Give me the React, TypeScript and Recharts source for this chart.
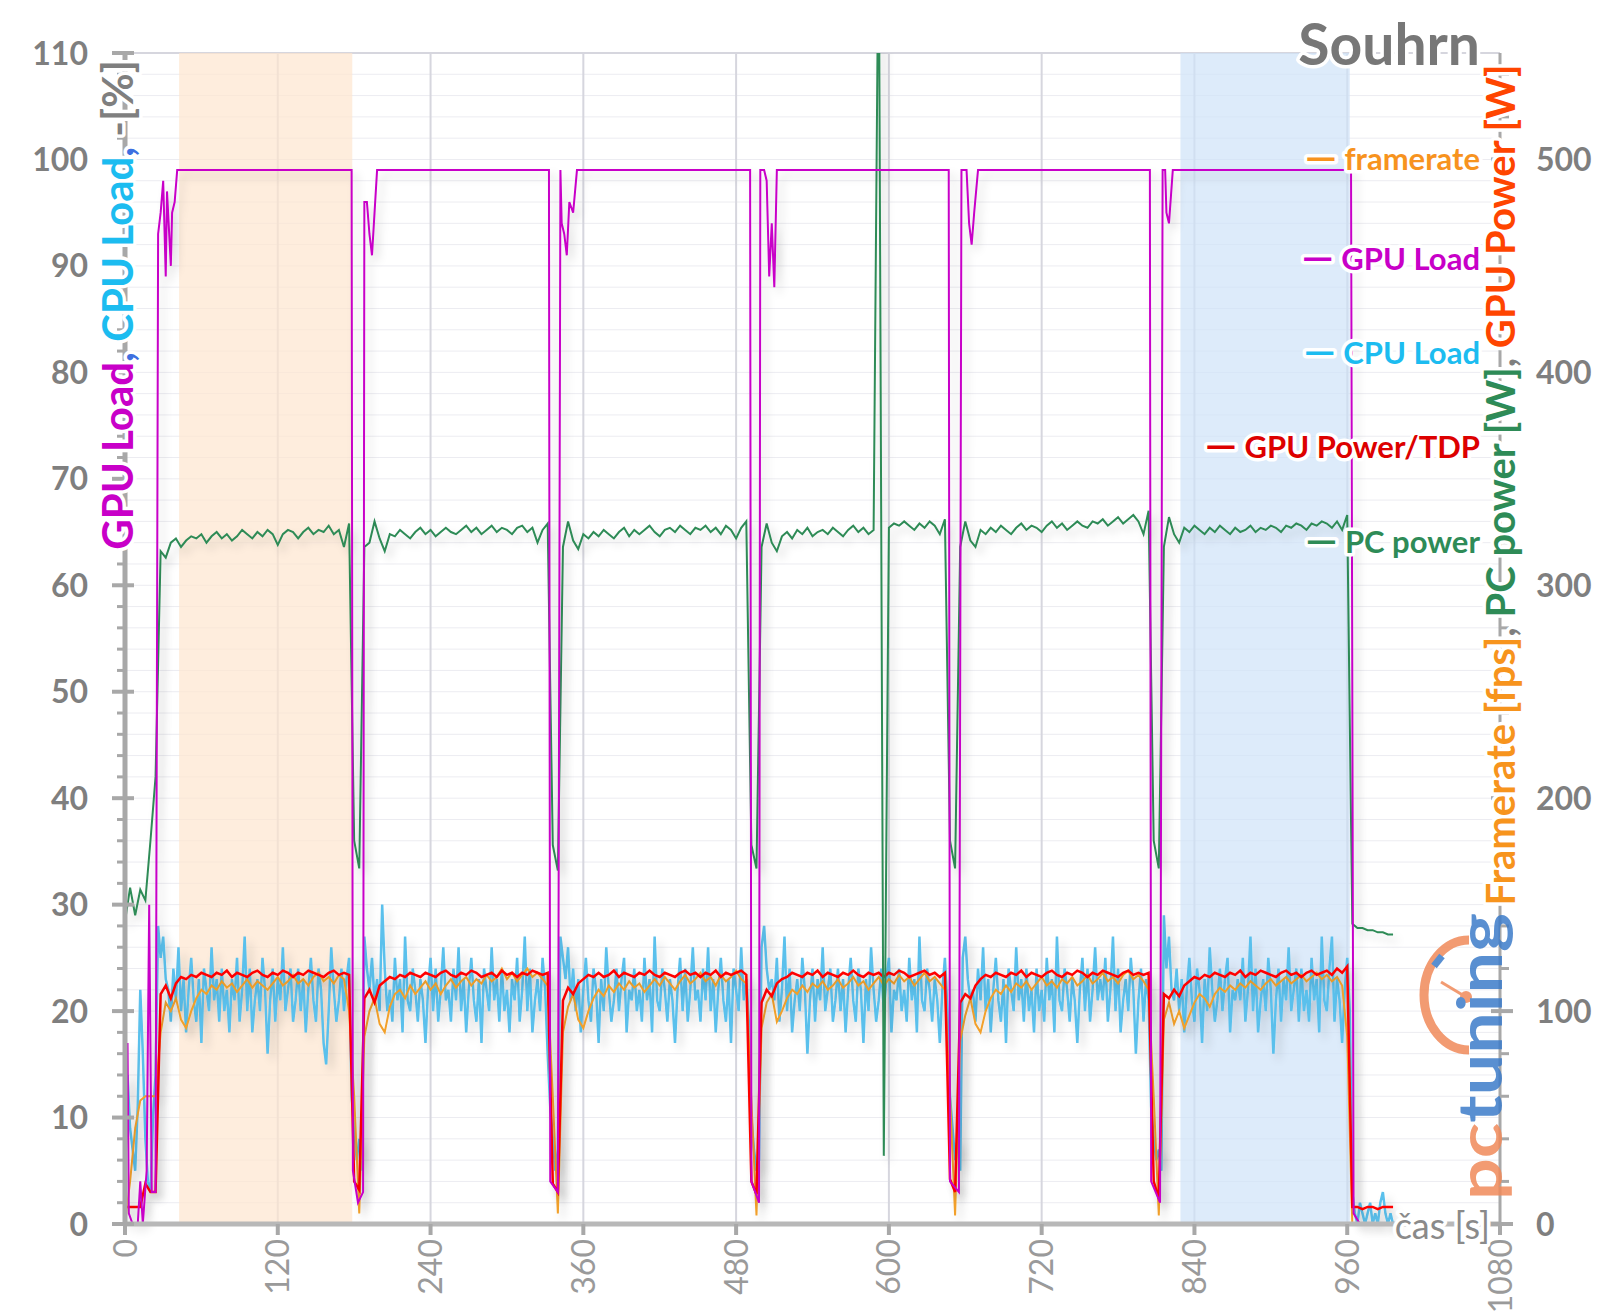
import { LineChart, Line, XAxis, YAxis, CartesianGrid, ReferenceArea } from "recharts"

// power / framerate sampled every 4 s, CPU load every 2 s
const STEP_S = 4
const CPU_STEP_S = 2

// PC power [W]
const pcPower = [
  142, 158, 145, 157, 152, 180, 210,
  316, 313, 320, 322, 318, 321, 323, 322, 324, 320, 323, 325, 322, 324, 321, 323, 326, 324, 322, 325, 323, 326, 324, 319, 324, 326, 325, 322, 325, 327, 324, 326, 325, 328, 324, 326, 318, 329,
  180, 167,
  318, 320, 330, 322, 316, 324, 323, 326, 324, 322, 325, 327, 324, 326, 323, 325, 327, 325, 324, 326, 328, 325, 327, 324, 326, 328, 325, 327, 326, 324, 327, 328, 325, 327, 320, 326, 329,
  178, 166,
  318, 330, 321, 317, 324, 322, 325, 323, 326, 324, 322, 325, 327, 323, 326, 324, 326, 328, 325, 323, 326, 327, 325, 328, 326, 324, 327, 326, 328, 325, 327, 324, 328, 326, 322, 327, 330,
  178, 167,
  318, 329, 320, 316, 323, 325, 322, 326, 324, 327, 323, 325, 326, 324, 327, 325, 323, 326, 328, 325, 327, 324, 326, 620, 32, 327, 329, 328, 330, 328, 326, 329, 327, 330, 328, 324, 331,
  180, 167,
  318, 330, 321, 318, 326, 324, 327, 325, 328, 326, 324, 327, 329, 326, 328, 327, 325, 328, 330, 327, 329, 326, 328, 330, 328, 327, 330, 329, 331, 328, 330, 332, 329, 331, 333, 330, 324, 335,
  180, 167,
  318, 332, 324, 320, 327, 325, 328, 326, 324, 327, 325, 328, 326, 324, 327, 325, 326, 328, 325, 327, 326, 328, 327, 325, 328, 327, 329, 328, 326, 329, 328, 330, 329, 327, 330, 326, 333,
  141, 139, 139, 138, 138, 137, 137, 136, 136,
]

// GPU power [W]
const gpuPower = [
  8, 8, 8, 8, 19, 15, 15,
  108, 112, 106, 113, 116, 115, 117, 116, 118, 117, 116, 118, 117, 119, 116, 118, 117, 116, 118, 119, 117, 116, 118, 117, 119, 118, 116, 118, 117, 119, 118, 117, 116, 118, 119, 117, 118, 117,
  20, 16,
  106, 110, 104, 112, 114, 116, 115, 117, 116, 118, 117, 116, 118, 117, 116, 118, 119, 117, 116, 118, 117, 119, 118, 116, 117, 118, 116, 119, 117, 118, 116, 118, 117, 119, 118, 117, 118,
  19, 15,
  105, 111, 108, 113, 115, 117, 116, 118, 116, 117, 119, 116, 118, 117, 116, 118, 117, 119, 117, 116, 118, 117, 116, 118, 119, 117, 118, 116, 118, 117, 119, 116, 118, 117, 118, 119, 117,
  20, 14,
  104, 110, 107, 113, 115, 116, 118, 117, 116, 118, 117, 119, 116, 118, 117, 116, 118, 117, 119, 117, 116, 118, 117, 118, 116, 118, 117, 119, 118, 116, 117, 118, 119, 117, 118, 116, 118,
  21, 15,
  104, 108, 106, 112, 115, 117, 116, 118, 117, 116, 118, 117, 119, 116, 118, 117, 116, 118, 119, 117, 116, 118, 117, 119, 118, 116, 118, 117, 119, 118, 117, 116, 118, 119, 117, 118, 117, 118,
  20, 12,
  108, 106, 110, 107, 112, 114, 116, 115, 117, 116, 118, 117, 116, 118, 117, 119, 116, 118, 117, 119, 118, 117, 116, 118, 119, 117, 118, 116, 118, 119, 117, 118, 119, 117, 120, 118, 121,
  8, 8, 7, 8, 8, 7, 8, 8, 8,
]

// framerate [fps]
const framerate = [
  0, 20, 45, 58, 60, 60, 60,
  90, 104, 100, 106, 96, 92, 100, 106, 110, 108, 112, 110, 114, 111, 113, 109, 112, 115, 111, 114, 112, 110, 113, 116, 112, 114, 117, 113, 115, 112, 116, 118, 114, 116, 113, 117, 115, 100,
  60, 5,
  88, 100, 106, 94, 90, 102, 108, 110, 106, 112, 108, 111, 114, 110, 113, 108, 112, 115, 111, 114, 116, 112, 115, 113, 117, 114, 116, 120, 115, 118, 114, 117, 120, 116, 118, 115, 112,
  60, 5,
  90, 102, 108, 96, 92, 100, 106, 110, 107, 112, 109, 113, 110, 114, 111, 113, 109, 112, 115, 112, 116, 113, 110, 114, 117, 113, 115, 118, 114, 116, 112, 117, 114, 116, 119, 115, 113,
  58, 4,
  92, 104, 108, 95, 100, 106, 110, 108, 112, 109, 113, 111, 114, 110, 112, 115, 111, 113, 116, 112, 114, 110, 113, 116, 112, 115, 113, 117, 114, 116, 112, 115, 118, 114, 116, 113, 110,
  60, 4,
  86, 98, 106, 94, 90, 100, 106, 110, 108, 112, 109, 113, 111, 114, 110, 113, 116, 112, 114, 111, 115, 113, 116, 112, 114, 117, 113, 115, 118, 114, 116, 113, 117, 119, 115, 117, 114, 110,
  60, 4,
  96, 104, 94, 100, 92, 98, 104, 108, 106, 102, 108, 111, 109, 112, 110, 113, 111, 114, 112, 110, 113, 115, 112, 114, 116, 113, 115, 117, 114, 116, 118, 115, 117, 114, 116, 112, 88,
  0, 0, 0, 0, 0, 0, 0, 0, 0,
]

// CPU load [%], every 2 s
const cpuLoad = [
  12, 14, 9, 7, 5, 11, 22, 16, 8, 4, 3, 10, 14,
  28, 25, 27, 23,
  22, 19, 24, 21, 26, 20, 23, 18, 22, 25, 21, 19, 23, 17, 24, 22, 20, 26, 21, 23, 19, 24, 20, 22, 18,
  23, 21, 25, 19, 22, 27, 20, 24, 18, 21, 23, 20, 25, 22, 16, 21, 24, 19, 23, 21, 26, 20, 22, 24, 19,
  21, 24, 20, 23, 18, 22, 25, 21, 19, 24, 22, 17, 15, 20, 26, 22, 19, 21, 24, 20, 23, 25,
  12, 9, 6, 8, 5,
  27, 24, 22, 25, 21, 23, 20, 30,
  24, 20, 22, 19, 25, 21, 23, 18, 27, 21, 20, 24, 22, 19, 23, 21, 17, 22, 25, 20, 24, 19, 22, 26, 21,
  22, 19, 24, 21, 26, 20, 23, 18, 22, 25, 21, 19, 23, 17, 24, 22, 20, 26, 21, 23, 19, 24, 20, 22, 18,
  23, 21, 25, 19, 22, 27, 20, 24, 18, 21, 23, 20, 25, 22, 16,
  11, 8, 5, 7,
  27, 25, 23, 26,
  21, 24, 20, 23, 18, 22, 25, 21, 19, 24, 22, 17, 23, 20, 26, 22, 19, 21, 24, 20, 23, 25, 18, 22, 21,
  24, 20, 22, 19, 25, 21, 23, 18, 27, 21, 20, 24, 22, 19, 23, 21, 17, 22, 25, 20, 24, 19, 22, 26, 21,
  22, 19, 24, 21, 26, 20, 23, 18, 22, 25, 21, 19, 23, 17, 24, 22, 20, 26, 21, 23, 19,
  10, 7, 5, 6,
  26, 28, 24, 22,
  23, 21, 25, 19, 22, 27, 20, 24, 18, 21, 23, 20, 25, 22, 16, 21, 24, 19, 23, 21, 26, 20, 22, 24, 19,
  21, 24, 20, 23, 18, 22, 25, 21, 19, 24, 22, 17, 23, 20, 26, 22, 19, 21, 24, 20, 23, 25, 18, 22, 21,
  24, 20, 22, 19, 25, 21, 23, 18, 27, 21, 20, 24, 22, 19, 23, 21, 17, 22, 25, 20,
  12, 9, 6, 8, 5,
  25, 27, 23, 21,
  22, 19, 24, 21, 26, 20, 23, 18, 22, 25, 21, 19, 23, 17, 24, 22, 20, 26, 21, 23, 19, 24, 20, 22, 18,
  24, 20, 22, 19, 25, 21, 23, 18, 27, 21, 20, 24, 22, 19, 23, 21, 17, 22, 25, 20, 24, 19, 22, 26, 21,
  23, 21, 25, 19, 22, 27, 20, 24, 18, 21, 23, 20, 25, 22, 16, 21, 24, 19, 23, 21,
  11, 8, 6, 7, 5,
  29, 24, 27, 22,
  21, 24, 20, 23, 18, 22, 25, 21, 19, 24, 22, 17, 23, 20, 26, 22, 19, 21, 24, 20, 23, 25, 18, 22, 21,
  23, 21, 25, 19, 22, 27, 20, 24, 18, 21, 23, 20, 25, 22, 16, 21, 24, 19, 23, 21, 26, 20, 22, 24, 19,
  24, 20, 22, 19, 25, 21, 23, 18, 27, 21, 20, 24, 27, 19, 23, 21, 17, 22, 25, 20,
  3, 1, 0, 2, 1, 0, 1, 2, 0, 1, 0, 2, 3, 1, 0, 1, 0, 0,
]

// GPU load [%], only the turning points
const gpuLoadT = [
  0, 2, 3, 6, 10, 12, 14, 17, 19, 21, 24, 26, 28, 30, 32, 33, 36, 37, 39, 41,
  178, 179, 183, 187, 188, 190, 192, 194, 196, 198,
  333, 334, 340, 342, 343, 345, 347, 349, 352, 355,
  491, 492, 498, 499, 502, 504, 506, 508, 510, 512,
  647, 648, 655, 657, 661, 663, 665, 667, 670,
  805, 806, 813, 815, 817, 818, 820, 823,
  963, 965, 970, 996,
]
const gpuLoadV = [
  0, 17, 1, 0, 0, 4, 0, 5, 30, 3, 3, 93, 95, 98, 89, 97, 90, 95, 96, 99,
  99, 5, 2, 3, 96, 96, 93, 91, 95, 99,
  99, 4, 3, 99, 94, 93, 91, 96, 95, 99,
  99, 4, 2, 99, 99, 98, 89, 94, 88, 99,
  99, 4, 3, 99, 99, 94, 92, 95, 99,
  99, 4, 2, 99, 99, 95, 94, 99,
  99, 1, 0, 0,
]

const xTicks = [0, 120, 240, 360, 480, 600, 720, 840, 960, 1080]
const xMinorTicks = Array.from({ length: 73 }, (_, i) => i * 15)
const pctTicks = Array.from({ length: 56 }, (_, i) => i * 2)
const pctMajorTicks = [0, 10, 20, 30, 40, 50, 60, 70, 80, 90, 100, 110]
const wattTicks = Array.from({ length: 28 }, (_, i) => i * 20)

const toSeries = (vals: number[], step: number) => vals.map((v, i) => ({ t: i * step, v }))
const gpuLoadData = gpuLoadT.map((t, i) => ({ t, v: gpuLoadV[i] }))

const FONT = "Lato, 'Open Sans', sans-serif"
const AXIS_GRAY = "#a8a8a8"
const LABEL_GRAY = "#7f7f7f"

const LeftTick = (props: any) => {
  const { x, y, payload } = props
  const v = payload.value
  const major = v % 10 === 0
  return (
    <g>
      <line x1={x - (major ? 13 : 8)} x2={x + (major ? 9 : 0)} y1={y} y2={y} stroke={AXIS_GRAY} strokeWidth={major ? 4 : 3} />
      {major && (
        <text x={x - 37} y={y} dy="0.36em" textAnchor="end" fill={LABEL_GRAY} fontSize={32} fontWeight={700} fontFamily={FONT}>
          {v}
        </text>
      )}
    </g>
  )
}

const RightTick = (props: any) => {
  const { x, y, payload } = props
  const v = payload.value
  const major = v % 100 === 0
  return (
    <g>
      <line x1={x - (major ? 9 : 0)} x2={x + (major ? 13 : 9)} y1={y} y2={y} stroke={AXIS_GRAY} strokeWidth={major ? 4 : 3} />
      {major && (
        <text x={x + 36} y={y} dy="0.36em" textAnchor="start" fill={LABEL_GRAY} fontSize={32} fontWeight={700} fontFamily={FONT}>
          {v}
        </text>
      )}
    </g>
  )
}

const BottomTick = (props: any) => {
  const { x, y, payload } = props
  const ty = y + 15
  return (
    <g>
      <line x1={x} x2={x} y1={y} y2={y + 11} stroke={AXIS_GRAY} strokeWidth={4} />
      <text x={x} y={ty} dy="0.36em" textAnchor="end" transform={`rotate(-90, ${x}, ${ty})`} fill="#9a9a9a" fontSize={32} fontFamily={FONT}>
        {payload.value}
      </text>
    </g>
  )
}

const halo = { stroke: "#fff", strokeWidth: 7, paintOrder: "stroke" as const, strokeLinejoin: "round" as const }

function Overlay() {
  const legend = [
    { label: "framerate", color: "#f7931e", y: 150 },
    { label: "GPU Load", color: "#c800c8", y: 250 },
    { label: "CPU Load", color: "#1cbcf0", y: 344 },
    { label: "GPU Power/TDP", color: "#dd0000", y: 438 },
    { label: "PC power", color: "#2e8b57", y: 533 },
  ]
  return (
    <svg width={1584} height={1305} style={{ position: "absolute", left: 0, top: 0, pointerEvents: "none" }} fontFamily={FONT}>
      <defs>
        <filter id="lineShadow" x="-5%" y="-5%" width="115%" height="115%">
          <feDropShadow dx="5" dy="6" stdDeviation="4" floodColor="#000" floodOpacity="0.16" />
        </filter>
      </defs>
      <text x={1472} y={57} textAnchor="end" fontSize={57} fontWeight={700} fill="#777" {...halo}>Souhrn</text>

      <text x={109} y={297} transform="rotate(-90, 109, 297)" textAnchor="middle" dominantBaseline="central" fontSize={42} fontWeight={700} {...halo}>
        <tspan fill="#c800c8">GPU Load</tspan>
        <tspan fill="#3d6fe0">, </tspan>
        <tspan fill="#1cbcf0">CPU Load</tspan>
        <tspan fill="#3d6fe0">, </tspan>
        <tspan fill={LABEL_GRAY}>-[%]</tspan>
      </text>

      <text x={1492} y={477} transform="rotate(-90, 1492, 477)" textAnchor="middle" dominantBaseline="central" fontSize={40} fontWeight={700} {...halo}>
        <tspan fill="#f7941d">Framerate [fps]</tspan>
        <tspan fill={LABEL_GRAY}>, </tspan>
        <tspan fill="#2e8b57">PC power [W]</tspan>
        <tspan fill={LABEL_GRAY}>, </tspan>
        <tspan fill="#ff4500">GPU Power [W]</tspan>
      </text>

      {legend.map((l) => (
        <text key={l.label} x={1472} y={l.y} textAnchor="end" dominantBaseline="central" fontSize={31} fontWeight={700} fill={l.color} {...halo}>
          <tspan fontSize={40} dy="-2">—</tspan>
          <tspan dy="2">{" " + l.label}</tspan>
        </text>
      ))}

      <text x={1482} y={1217} textAnchor="end" dominantBaseline="central" fontSize={36} fill="#8a8a8a" {...halo}>čas [s]</text>

      <g opacity={0.85}>
        <path d="M 1461 932 A 45 55 0 0 0 1461 1042" fill="none" stroke="#f08a5a" strokeWidth={9} />
        <line x1={1426} y1={958} x2={1434} y2={948} stroke="#3d7cc9" strokeWidth={7} />
        <line x1={1433} y1={974} x2={1458} y2={989} stroke="#f08a5a" strokeWidth={3} />
        <circle cx={1458} cy={989} r={6} fill="#f08a5a" />
        <text x={1494} y={1192} transform="rotate(-90, 1494, 1192)" fontSize={62} fontWeight={700} textLength={287} lengthAdjust="spacingAndGlyphs">
          <tspan fill="#f08a5a">pc</tspan>
          <tspan fill="#3d7cc9">tuning</tspan>
        </text>
      </g>
    </svg>
  )
}

const lineCommon = { dot: false, activeDot: false, isAnimationActive: false, filter: "url(#lineShadow)" } as const

export default function App() {
  return (
    <div style={{ position: "relative", width: 1584, height: 1305, fontFamily: FONT }}>
      <LineChart width={1584} height={1305} margin={{ top: 45, right: 0, bottom: 0, left: 0 }}>
        <XAxis
          dataKey="t"
          type="number"
          domain={[0, 1080]}
          ticks={xTicks}
          interval={0}
          height={89}
          tickSize={0}
          tickMargin={0}
          tick={BottomTick}
          axisLine={{ stroke: "#b8b8b8", strokeWidth: 5 }}
          allowDataOverflow
        />
        <XAxis xAxisId="gx" dataKey="t" type="number" domain={[0, 1080]} ticks={xMinorTicks} interval={0} height={0} hide />
        <YAxis
          yAxisId="pct"
          orientation="left"
          width={117}
          type="number"
          domain={[0, 110]}
          ticks={pctTicks}
          interval={0}
          tickSize={0}
          tickMargin={0}
          tick={LeftTick}
          axisLine={{ stroke: AXIS_GRAY, strokeWidth: 5 }}
        />
        <YAxis
          yAxisId="w"
          orientation="right"
          width={92}
          type="number"
          domain={[0, 550]}
          ticks={wattTicks}
          interval={0}
          tickSize={0}
          tickMargin={0}
          tick={RightTick}
          axisLine={{ stroke: AXIS_GRAY, strokeWidth: 3 }}
          allowDataOverflow
        />
        <YAxis yAxisId="gy" type="number" domain={[0, 110]} ticks={pctMajorTicks} interval={0} width={0} hide />

        <CartesianGrid xAxisId="gx" yAxisId="pct" stroke="#ececf1" strokeWidth={1} />
        <ReferenceArea yAxisId="pct" x1={42.5} x2={178.5} y1={0} y2={110} fill="#fde6cf" fillOpacity={0.7} stroke="none" />
        <ReferenceArea yAxisId="pct" x1={829} x2={962} y1={0} y2={110} fill="#cfe2f8" fillOpacity={0.7} stroke="none" />
        <CartesianGrid yAxisId="gy" stroke="#d6d6de" strokeWidth={2} />

        <Line yAxisId="pct" data={toSeries(cpuLoad, CPU_STEP_S)} dataKey="v" stroke="#5ac0ec" strokeWidth={2.5} {...lineCommon} />
        <Line yAxisId="w" data={toSeries(framerate, STEP_S)} dataKey="v" stroke="#f2a02a" strokeWidth={2} {...lineCommon} />
        <Line yAxisId="w" data={toSeries(gpuPower, STEP_S)} dataKey="v" stroke="#ff0000" strokeWidth={2.5} {...lineCommon} />
        <Line yAxisId="w" data={toSeries(pcPower, STEP_S)} dataKey="v" stroke="#2e8b57" strokeWidth={2} {...lineCommon} />
        <Line yAxisId="pct" data={gpuLoadData} dataKey="v" stroke="#c800c8" strokeWidth={2} {...lineCommon} />
      </LineChart>
      <Overlay />
    </div>
  )
}
